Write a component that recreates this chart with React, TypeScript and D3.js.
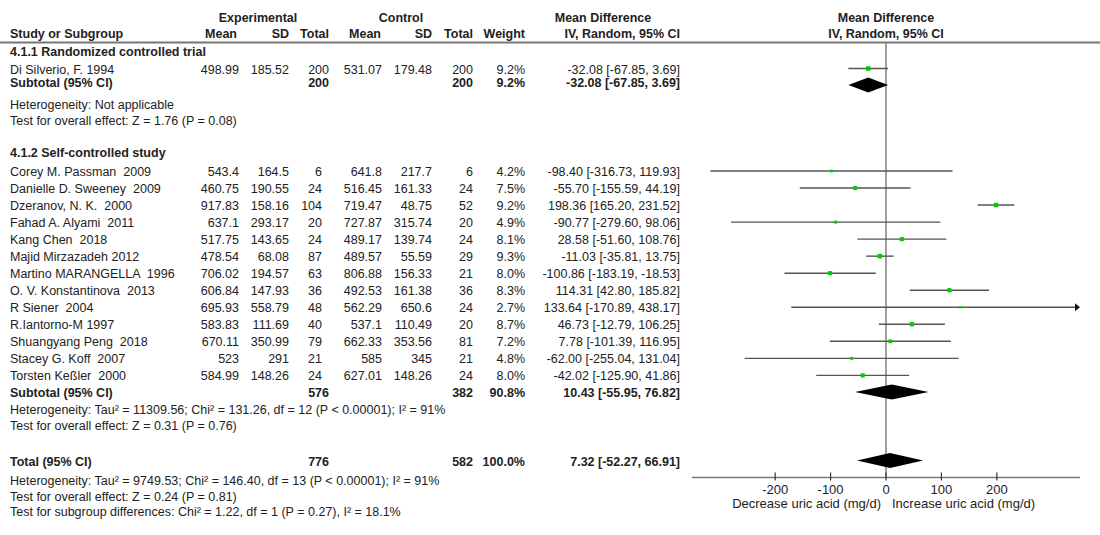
import React from 'react'
import * as d3 from 'd3';

// group 1: randomized controlled trial
const g1Names = ['Di Silverio, F. 1994'];
const g1ExpMean = [498.99];
const g1ExpSD = [185.52];
const g1ExpN = [200];
const g1CtlMean = [531.07];
const g1CtlSD = [179.48];
const g1CtlN = [200];
const g1Weight = [9.2];
const g1MD = [-32.08];
const g1Lo = [-67.85];
const g1Hi = [3.69];

// group 2: self-controlled study
const g2Names = [
  'Corey M. Passman  2009', 'Danielle D. Sweeney  2009', 'Dzeranov, N. K.  2000', 'Fahad A. Alyami  2011',
  'Kang Chen  2018', 'Majid Mirzazadeh 2012', 'Martino MARANGELLA  1996', 'O. V. Konstantinova  2013',
  'R Siener  2004', 'R.Iantorno-M 1997', 'Shuangyang Peng  2018', 'Stacey G. Koff  2007', 'Torsten Keßler  2000',
];
const g2ExpMean = [543.4, 460.75, 917.83, 637.1, 517.75, 478.54, 706.02, 606.84, 695.93, 583.83, 670.11, 523, 584.99];
const g2ExpSD = [164.5, 190.55, 158.16, 293.17, 143.65, 68.08, 194.57, 147.93, 558.79, 111.69, 350.99, 291, 148.26];
const g2ExpN = [6, 24, 104, 20, 24, 87, 63, 36, 48, 40, 79, 21, 24];
const g2CtlMean = [641.8, 516.45, 719.47, 727.87, 489.17, 489.57, 806.88, 492.53, 562.29, 537.1, 662.33, 585, 627.01];
const g2CtlSD = [217.7, 161.33, 48.75, 315.74, 139.74, 55.59, 156.33, 161.38, 650.6, 110.49, 353.56, 345, 148.26];
const g2CtlN = [6, 24, 52, 20, 24, 29, 21, 36, 24, 20, 81, 21, 24];
const g2Weight = [4.2, 7.5, 9.2, 4.9, 8.1, 9.3, 8.0, 8.3, 2.7, 8.7, 7.2, 4.8, 8.0];
const g2MD = [-98.40, -55.70, 198.36, -90.77, 28.58, -11.03, -100.86, 114.31, 133.64, 46.73, 7.78, -62.00, -42.02];
const g2Lo = [-316.73, -155.59, 165.20, -279.60, -51.60, -35.81, -183.19, 42.80, -170.89, -12.79, -101.39, -255.04, -125.90];
const g2Hi = [119.93, 44.19, 231.52, 98.06, 108.76, 13.75, -18.53, 185.82, 438.17, 106.25, 116.95, 131.04, 41.86];

// pooled estimates (subtotal 1, subtotal 2, total)
const pooledLabels = ['Subtotal (95% CI)', 'Subtotal (95% CI)', 'Total (95% CI)'];
const pooledExpN = [200, 576, 776];
const pooledCtlN = [200, 382, 582];
const pooledWeight = [9.2, 90.8, 100.0];
const pooledMD = [-32.08, 10.43, 7.32];
const pooledLo = [-67.85, -55.95, -52.27];
const pooledHi = [3.69, 76.82, 66.91];

const axisTicks = [-200, -100, 0, 100, 200];
const axisDomain = [-350, 350];

const g1Notes = ['Heterogeneity: Not applicable', 'Test for overall effect: Z = 1.76 (P = 0.08)'];
const g2Notes = [
  'Heterogeneity: Tau² = 11309.56; Chi² = 131.26, df = 12 (P < 0.00001); I² = 91%',
  'Test for overall effect: Z = 0.31 (P = 0.76)',
];
const totalNotes = [
  'Heterogeneity: Tau² = 9749.53; Chi² = 146.40, df = 13 (P < 0.00001); I² = 91%',
  'Test for overall effect: Z = 0.24 (P = 0.81)',
  'Test for subgroup differences: Chi² = 1.22, df = 1 (P = 0.27), I² = 18.1%',
];

const FONT = '"Liberation Sans", Arial, sans-serif';
const TXT = '#222';

// right edges of the numeric columns
const col = { em: 239, esd: 289, en: 322, enB: 329, cm: 382, csd: 432, cn: 473, w: 525, md: 680 };

const fmt2 = (v: number) => v.toFixed(2);
const ciText = (m: number, l: number, h: number) => `${fmt2(m)} [${fmt2(l)}, ${fmt2(h)}]`;

const T = ({ x, y, children, anchor = 'start', bold = false, size }: any) => (
  <text x={x} y={y} textAnchor={anchor} fontWeight={bold ? 'bold' : 'normal'} fill={TXT}
    fontSize={size} style={{ whiteSpace: 'pre' }}>{children}</text>
);

const App = () => {
  const x = d3.scaleLinear().domain(axisDomain).range([692, 1080]);
  const boxSize = d3.scaleLinear().domain([0, 10]).range([1.3, 4.8]);

  const g1Y = [68.5];
  const g2Y = d3.range(g2Names.length).map(i => 171 + i * 17.03);
  const pooledY = [85, 392, 460.5];
  const pooledTextY = [86.5, 396.5, 466];
  const axisY = 477.5;

  const studyRow = (name: string, em: number, esd: number, en: number, cm: number, csd: number, cn: number,
    w: number, md: number, lo: number, hi: number, y: number, key: string, enX: number) => {
    const ty = y + 5;
    const s = boxSize(w);
    const x1 = x(Math.max(lo, axisDomain[0]));
    const x2 = x(Math.min(hi, axisDomain[1]));
    const clipped = hi > axisDomain[1];
    return (
      <g key={key}>
        <T x={10} y={ty}>{name}</T>
        <T x={col.em} y={ty} anchor='end'>{String(em)}</T>
        <T x={col.esd} y={ty} anchor='end'>{String(esd)}</T>
        <T x={enX} y={ty} anchor='end'>{String(en)}</T>
        <T x={col.cm} y={ty} anchor='end'>{String(cm)}</T>
        <T x={col.csd} y={ty} anchor='end'>{String(csd)}</T>
        <T x={col.cn} y={ty} anchor='end'>{String(cn)}</T>
        <T x={col.w} y={ty} anchor='end'>{w.toFixed(1) + '%'}</T>
        <T x={col.md} y={ty} anchor='end'>{ciText(md, lo, hi)}</T>
        <line x1={x1} x2={clipped ? x2 - 4 : x2} y1={y} y2={y} stroke='#555' strokeWidth={1.4} />
        {clipped && <path d={`M${x2 - 5},${y - 4} L${x2},${y} L${x2 - 5},${y + 4} Z`} fill='#111' />}
        <rect x={x(md) - s / 2} y={y - s / 2} width={s} height={s} fill='#00cc00' />
      </g>
    );
  };

  const pooledRow = (i: number) => {
    const y = pooledY[i];
    const ty = pooledTextY[i];
    const d = `M${x(pooledLo[i])},${y} L${x(pooledMD[i])},${y - 7.5} L${x(pooledHi[i])},${y} L${x(pooledMD[i])},${y + 7.5} Z`;
    return (
      <g key={'p' + i}>
        <T x={10} y={ty} bold>{pooledLabels[i]}</T>
        <T x={col.enB} y={ty} anchor='end' bold>{String(pooledExpN[i])}</T>
        <T x={col.cn} y={ty} anchor='end' bold>{String(pooledCtlN[i])}</T>
        <T x={col.w} y={ty} anchor='end' bold>{pooledWeight[i].toFixed(1) + '%'}</T>
        <T x={col.md} y={ty} anchor='end' bold>{ciText(pooledMD[i], pooledLo[i], pooledHi[i])}</T>
        <path d={d} fill='#000' />
      </g>
    );
  };

  return (
    <svg width={1100} height={535} style={{ position: 'absolute', left: 0, top: 0, background: '#fff' }}
      fontFamily={FONT} fontSize={12.5}>
      {/* header */}
      <g>
        <T x={258} y={22} anchor='middle' bold>Experimental</T>
        <T x={401} y={22} anchor='middle' bold>Control</T>
        <T x={603} y={22} anchor='middle' bold>Mean Difference</T>
        <T x={886} y={22} anchor='middle' bold>Mean Difference</T>
        <T x={10} y={38} bold>Study or Subgroup</T>
        <T x={237} y={38} anchor='end' bold>Mean</T>
        <T x={289} y={38} anchor='end' bold>SD</T>
        <T x={329} y={38} anchor='end' bold>Total</T>
        <T x={381} y={38} anchor='end' bold>Mean</T>
        <T x={432} y={38} anchor='end' bold>SD</T>
        <T x={473} y={38} anchor='end' bold>Total</T>
        <T x={525} y={38} anchor='end' bold>Weight</T>
        <T x={680} y={38} anchor='end' bold>IV, Random, 95% CI</T>
        <T x={886} y={38} anchor='middle' bold>IV, Random, 95% CI</T>
        <line x1={0} x2={1100} y1={42.5} y2={42.5} stroke='#777' strokeWidth={2} />
      </g>

      {/* zero line */}
      <line x1={x(0)} x2={x(0)} y1={43} y2={axisY} stroke='#888' strokeWidth={1.6} />

      {/* group 1 */}
      <T x={10} y={56} bold>4.1.1 Randomized controlled trial</T>
      {g1Names.map((n, i) => studyRow(n, g1ExpMean[i], g1ExpSD[i], g1ExpN[i], g1CtlMean[i], g1CtlSD[i], g1CtlN[i],
        g1Weight[i], g1MD[i], g1Lo[i], g1Hi[i], g1Y[i], 'a' + i, col.enB))}
      {pooledRow(0)}
      <T x={10} y={109}>{g1Notes[0]}</T>
      <T x={10} y={124.5}>{g1Notes[1]}</T>

      {/* group 2 */}
      <T x={10} y={157} bold>4.1.2 Self-controlled study</T>
      {g2Names.map((n, i) => studyRow(n, g2ExpMean[i], g2ExpSD[i], g2ExpN[i], g2CtlMean[i], g2CtlSD[i], g2CtlN[i],
        g2Weight[i], g2MD[i], g2Lo[i], g2Hi[i], g2Y[i], 'b' + i, col.en))}
      {pooledRow(1)}
      <T x={10} y={414}>{g2Notes[0]}</T>
      <T x={10} y={429.5}>{g2Notes[1]}</T>

      {/* total */}
      {pooledRow(2)}
      {totalNotes.map((t, i) => <T key={'t' + i} x={10} y={485 + i * 15.5}>{t}</T>)}

      {/* axis */}
      <line x1={x(axisDomain[0])} x2={x(axisDomain[1])} y1={axisY} y2={axisY} stroke='#777' strokeWidth={1.5} />
      {axisTicks.map(t => (
        <g key={t}>
          <line x1={x(t)} x2={x(t)} y1={axisY - 5} y2={axisY + 3} stroke='#333' strokeWidth={1.2} />
          <T x={x(t)} y={494} anchor='middle' size={13}>{String(t)}</T>
        </g>
      ))}
      <T x={x(0) - 5} y={508} anchor='end' size={13}>Decrease uric acid (mg/d)</T>
      <T x={x(0) + 6} y={508} size={13}>Increase uric acid (mg/d)</T>
    </svg>
  );
};

export default App
